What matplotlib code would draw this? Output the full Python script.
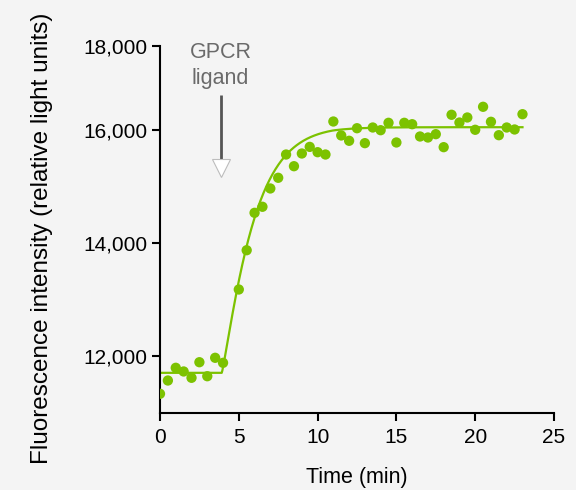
import numpy as np
import matplotlib
matplotlib.use('Agg')
import matplotlib.pyplot as plt
from matplotlib.ticker import StrMethodFormatter

# 数据
time_min = [0, 0.5, 1, 1.5, 2, 2.5, 3, 3.5, 4,
            5, 5.5, 6, 6.5, 7, 7.5, 8, 8.5, 9, 9.5, 10, 10.5,
            11, 11.5, 12, 12.5, 13, 13.5, 14, 14.5, 15, 15.5, 16, 16.5,
            17, 17.5, 18, 18.5, 19, 19.5, 20, 20.5, 21, 21.5, 22, 22.5, 23]
fluorescence = [11340, 11575, 11800, 11735, 11623, 11899, 11651, 11977, 11888,
                13186, 13881, 14543, 14650, 14974, 15163, 15575, 15368, 15593, 15710, 15616, 15575,
                16213, 15912, 15818, 16054, 15776, 16071, 16007, 16182, 15788, 16182, 16149, 15894,
                15876, 15935, 15705, 16372, 16189, 16308, 16017, 16561, 16206, 15917, 16071, 16024, 16386]

# 拟合曲线参数
baseline = 11711
plateau = 16078
onset = 3.92
tau = 2.1
shape = 1.15
fit_end = 23

ligand_time = 3.85
x_ticks = [0, 5, 10, 15, 20, 25]
y_ticks = [12000, 14000, 16000, 18000]

green = '#7cc200'
bg = '#f4f4f4'

# y轴在16000以上被压缩
k = 84.5 / 113
def fwd(v):
    v = np.asarray(v, dtype=float)
    return np.where(v <= 16000, v, 16000 + (v - 16000) * k)
def inv(v):
    v = np.asarray(v, dtype=float)
    return np.where(v <= 16000, v, 16000 + (v - 16000) / k)

plt.rcParams['font.family'] = ['Liberation Sans', 'DejaVu Sans']

fig = plt.figure(figsize=(5.76, 4.9), dpi=100, facecolor=bg)
ax = fig.add_axes([160/576, 77/490, 394/576, 367/490])
ax.set_facecolor(bg)
ax.set_yscale('function', functions=(fwd, inv))

t = np.linspace(0, fit_end, 600)
frac = 1 - np.exp(-(np.clip(t - onset, 0, None) / tau) ** shape)
fit = baseline + (plateau - baseline) * frac
ax.plot(t, fit, color=green, lw=1.6, zorder=2)
ax.scatter(time_min, fluorescence, s=55, color=green, edgecolors='none', zorder=3)

# 配体加入箭头
ax.plot([ligand_time, ligand_time], [15487, 16852], color='#555555', lw=2.0,
        solid_capstyle='butt', zorder=4)
ax.plot([ligand_time], [15328], marker='v', ms=12.5, mfc='white', mec='#bdbdbd',
        mew=0.8, zorder=4)
ax.text(ligand_time, 17540, 'GPCR\nligand', ha='center', va='center',
        fontsize=15.5, color='#6a6a6a', linespacing=1.32)

ax.set_xlim(0, 25)
ax.set_ylim(11000, 18000)
ax.set_xticks(x_ticks)
ax.set_yticks(y_ticks)
ax.yaxis.set_major_formatter(StrMethodFormatter('{x:,.0f}'))
ax.yaxis.set_minor_locator(plt.NullLocator())

for s in ['top', 'right']:
    ax.spines[s].set_visible(False)
for s in ['left', 'bottom']:
    ax.spines[s].set_linewidth(1.5)
    ax.spines[s].set_color('black')
ax.tick_params(length=6, width=1.5, labelsize=15, direction='out')
ax.tick_params(axis='x', pad=5)
ax.tick_params(axis='y', pad=3)

ax.set_xlabel('Time (min)', fontsize=15.5, labelpad=14)
ax.set_ylabel('Fluorescence intensity (relative light units)', fontsize=17.5, labelpad=22)
ax.yaxis.label.set_y(0.475)

fig.savefig('out.png', dpi=100, facecolor=bg)
